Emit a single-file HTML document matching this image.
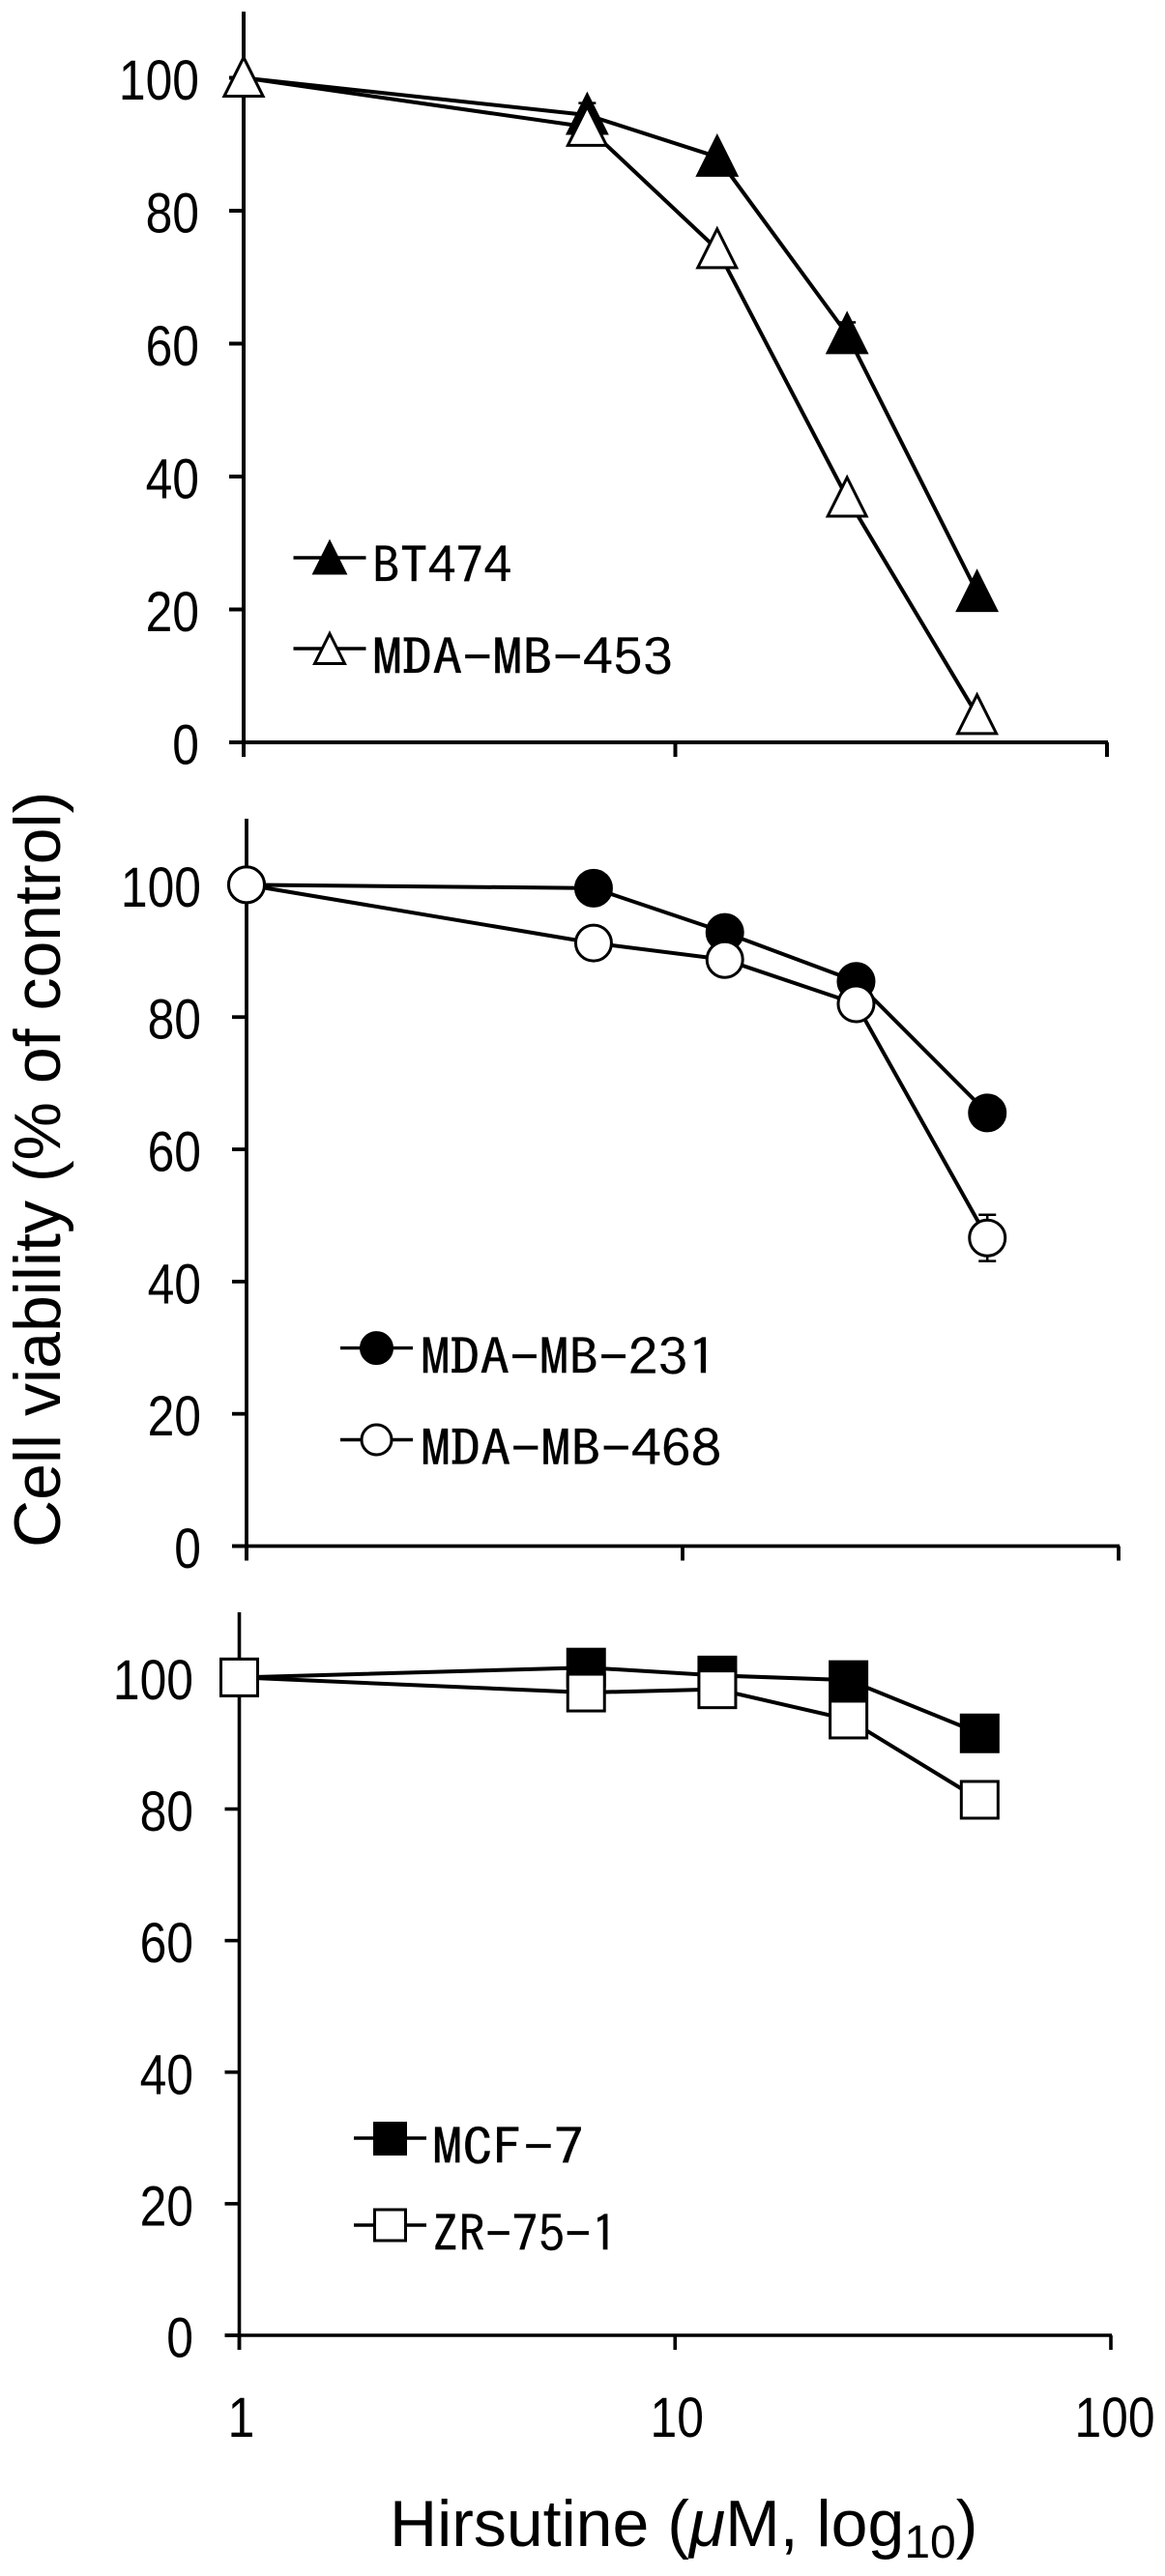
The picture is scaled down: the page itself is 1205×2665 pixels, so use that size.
<!DOCTYPE html>
<html lang="en">
<head>
<meta charset="utf-8">
<title>Cell viability vs Hirsutine</title>
<style>
html,body{margin:0;padding:0;background:#fff;}
svg{display:block;}
.tick{font-family:"Liberation Sans",sans-serif;font-size:58px;fill:#000;}
.legend{font-family:"IPAGothic","Liberation Sans",sans-serif;font-size:52px;fill:#000;stroke:#000;stroke-width:0.2px;}
.title{font-family:"Liberation Sans",sans-serif;fill:#000;}
</style>
</head>
<body>
<svg id="chart" xmlns="http://www.w3.org/2000/svg" width="1205" height="2665" viewBox="0 0 1205 2665">
<rect width="1205" height="2665" fill="#fff"/>
<text class="title" font-size="68" transform="translate(62,1601) rotate(-90)">Cell viability (% of control)</text>
<text class="title" font-size="68" x="403" y="2634">Hirsutine (<tspan font-style="italic">μ</tspan>M, log<tspan font-size="48" dy="12">10</tspan><tspan dy="-12">)</tspan></text>
</svg>
<script>
const doses = [1, 6.25, 12.5, 25, 50];
const yTickValues = [0, 20, 40, 60, 80, 100];
const xTickValues = [1, 10, 100];
const xTickLabelValues = ["1", "10", "100"];

const bt474Values = [100, 94.4, 88.1, 61.4, 22.6];
const bt474Errors = [0, 1.8, 0, 1.8, 0];
const mda453Values = [100, 92.6, 74.2, 36.8, 4.1];
const mda453Errors = [0, 0, 0, 0, 0];

const mda231Values = [100, 99.5, 92.8, 85.4, 65.5];
const mda231Errors = [0, 0, 0, 0, 0];
const mda468Values = [100, 91.2, 88.7, 82, 46.6];
const mda468Errors = [0, 0, 0, 0, 3.5];

const mcf7Values = [100, 101.5, 100.3, 99.6, 91.5];
const mcf7Errors = [0, 0, 0, 0, 0];
const zr751Values = [100, 97.7, 98.2, 93.6, 81.4];
const zr751Errors = [0, 0, 0, 0, 0];

const NS = 'http://www.w3.org/2000/svg';
const svg = document.getElementById('chart');

function makeEl(tag, attrs, name, parent) {
  const el = document.createElementNS(NS, tag);
  for (const k in attrs) el.setAttribute(k, attrs[k]);
  
  
  (parent || svg).appendChild(el);
  return el;
}

function drawMarker(shape, filled, cx, cy, size, name, parent) {
  const fill = filled ? '#000' : '#fff';
  const sw = 3;
  if (shape === 'triangle') {
    const h = size / 2;
    const pts = (cx) + ',' + (cy - h - 1) + ' ' + (cx + h) + ',' + (cy + h - 1) + ' ' + (cx - h) + ',' + (cy + h - 1);
    makeEl('polygon', {points: pts, fill: fill, stroke: '#000', 'stroke-width': sw, 'stroke-linejoin': 'miter'}, name, parent);
  } else if (shape === 'circle') {
    makeEl('circle', {cx: cx, cy: cy, r: size / 2, fill: fill, stroke: '#000', 'stroke-width': sw}, name, parent);
  } else {
    makeEl('rect', {x: cx - size / 2, y: cy - size / 2, width: size, height: size, fill: fill, stroke: '#000', 'stroke-width': sw}, name, parent);
  }
}

function drawPanel(cfg) {
  const g = makeEl('g', {}, cfg.name);
  const xScale = v => cfg.x0 + Math.log10(v) * (cfg.x100 - cfg.x0) / 2;
  const yScale = v => cfg.y0 - v * (cfg.y0 - cfg.y100) / 100;
  const axisW = cfg.axisWidth;

  makeEl('line', {x1: cfg.x0, x2: cfg.x0, y1: cfg.yTop, y2: cfg.y0 + 15, stroke: '#000', 'stroke-width': axisW}, 'y-axis-line', g);
  makeEl('line', {x1: cfg.x0 - 15, x2: cfg.x100 + 1, y1: cfg.y0, y2: cfg.y0, stroke: '#000', 'stroke-width': axisW}, 'x-axis-line', g);

  yTickValues.forEach(function (t) {
    const y = yScale(t);
    makeEl('line', {x1: cfg.x0 - 15, x2: cfg.x0, y1: y, y2: y, stroke: '#000', 'stroke-width': axisW}, 'y-tick-' + t, g);
    const s = String(t);
    const label = makeEl('text', {
      class: 'tick', x: cfg.labelRight, y: y + 22.5, 'text-anchor': 'end',
      textLength: 27.7 * s.length, lengthAdjust: 'spacingAndGlyphs'
    }, 'y-tick-label-' + t, g);
    label.textContent = s;
  });
  xTickValues.forEach(function (t) {
    const x = xScale(t);
    makeEl('line', {x1: x, x2: x, y1: cfg.y0, y2: cfg.y0 + 15, stroke: '#000', 'stroke-width': axisW}, 'x-tick-' + t, g);
  });

  cfg.series.forEach(function (s) {
    const sg = makeEl('g', {}, 'series-' + s.key, g);
    const pts = doses.map((d, i) => xScale(d) + ',' + yScale(s.values[i])).join(' ');
    makeEl('polyline', {points: pts, fill: 'none', stroke: '#000', 'stroke-width': 4, 'stroke-linejoin': 'round'}, s.key + '-line', sg);
    doses.forEach(function (d, i) {
      const e = s.errors[i];
      if (e > 0) {
        const x = xScale(d);
        const top = yScale(s.values[i] + e);
        const bot = yScale(s.values[i] - e);
        makeEl('line', {x1: x, x2: x, y1: top, y2: bot, stroke: '#000', 'stroke-width': 2.5}, s.key + '-error-' + d, sg);
        makeEl('line', {x1: x - 9, x2: x + 9, y1: top, y2: top, stroke: '#000', 'stroke-width': 2.5}, s.key + '-error-cap-top-' + d, sg);
        makeEl('line', {x1: x - 9, x2: x + 9, y1: bot, y2: bot, stroke: '#000', 'stroke-width': 2.5}, s.key + '-error-cap-bottom-' + d, sg);
      }
    });
    doses.forEach(function (d, i) {
      drawMarker(s.shape, s.filled, xScale(d), yScale(s.values[i]), s.size, s.key + '-point-' + d, sg);
    });
  });

  cfg.legend.forEach(function (l) {
    const lg = makeEl('g', {}, 'legend-entry-' + l.key, g);
    makeEl('line', {x1: cfg.legendX0, x2: cfg.legendX0 + 75, y1: l.y, y2: l.y, stroke: '#000', 'stroke-width': 3.4}, 'legend-line-' + l.key, lg);
    drawMarker(l.shape, l.filled, cfg.legendX0 + 37.5, l.my, l.msize, 'legend-marker-' + l.key, lg);
    const t = makeEl('text', {class: 'legend', x: l.tx, y: l.ty, textLength: l.tw, lengthAdjust: 'spacingAndGlyphs'}, 'legend-label-' + l.key, lg);
    t.textContent = l.label;
  });
  return xScale;
}

drawPanel({
  name: 'panel-top', x0: 252, x100: 1145, y0: 768, y100: 80.5, yTop: 12, axisWidth: 4, labelRight: 206, legendX0: 303.5,
  series: [
    {key: 'bt474', values: bt474Values, errors: bt474Errors, shape: 'triangle', filled: true, size: 40},
    {key: 'mda-mb-453', values: mda453Values, errors: mda453Errors, shape: 'triangle', filled: false, size: 40}
  ],
  legend: [
    {key: 'bt474', label: 'BT474', shape: 'triangle', filled: true, y: 577, my: 578, msize: 32, tx: 385, ty: 604, tw: 144},
    {key: 'mda-mb-453', label: 'MDA-MB-453', shape: 'triangle', filled: false, y: 671, my: 672, msize: 31, tx: 385, ty: 699, tw: 311}
  ]
});

drawPanel({
  name: 'panel-middle', x0: 255, x100: 1157, y0: 1599.5, y100: 915.4, yTop: 847, axisWidth: 3.8, labelRight: 208, legendX0: 352,
  series: [
    {key: 'mda-mb-231', values: mda231Values, errors: mda231Errors, shape: 'circle', filled: true, size: 37},
    {key: 'mda-mb-468', values: mda468Values, errors: mda468Errors, shape: 'circle', filled: false, size: 37}
  ],
  legend: [
    {key: 'mda-mb-231', label: 'MDA-MB-231', shape: 'circle', filled: true, y: 1394.6, my: 1394.6, msize: 32, tx: 435, ty: 1423, tw: 307},
    {key: 'mda-mb-468', label: 'MDA-MB-468', shape: 'circle', filled: false, y: 1489.5, my: 1489.5, msize: 31, tx: 435, ty: 1517.5, tw: 311}
  ]
});

drawPanel({
  name: 'panel-bottom', x0: 247.5, x100: 1149, y0: 2416, y100: 1735.4, yTop: 1668, axisWidth: 3.6, labelRight: 200, legendX0: 366,
  series: [
    {key: 'mcf-7', values: mcf7Values, errors: mcf7Errors, shape: 'square', filled: true, size: 38},
    {key: 'zr-75-1', values: zr751Values, errors: zr751Errors, shape: 'square', filled: false, size: 38}
  ],
  legend: [
    {key: 'mcf-7', label: 'MCF-7', shape: 'square', filled: true, y: 2212, my: 2212.5, msize: 32, tx: 447, ty: 2240, tw: 157},
    {key: 'zr-75-1', label: 'ZR-75-1', shape: 'square', filled: false, y: 2302, my: 2302, msize: 32, tx: 447, ty: 2330, tw: 192}
  ]
});

const bottomX = v => 247.5 + Math.log10(v) * (1149 - 247.5) / 2;
xTickValues.forEach(function (t, i) {
  const s = xTickLabelValues[i];
  const label = document.createElementNS(NS, 'text');
  label.setAttribute('class', 'tick');
  label.setAttribute('x', bottomX(t) + (i === 2 ? 4 : 2));
  label.setAttribute('y', 2521);
  label.setAttribute('text-anchor', 'middle');
  label.setAttribute('textLength', 27.7 * s.length);
  label.setAttribute('lengthAdjust', 'spacingAndGlyphs');
  
  
  label.textContent = s;
  svg.appendChild(label);
});
</script>
</body>
</html>
